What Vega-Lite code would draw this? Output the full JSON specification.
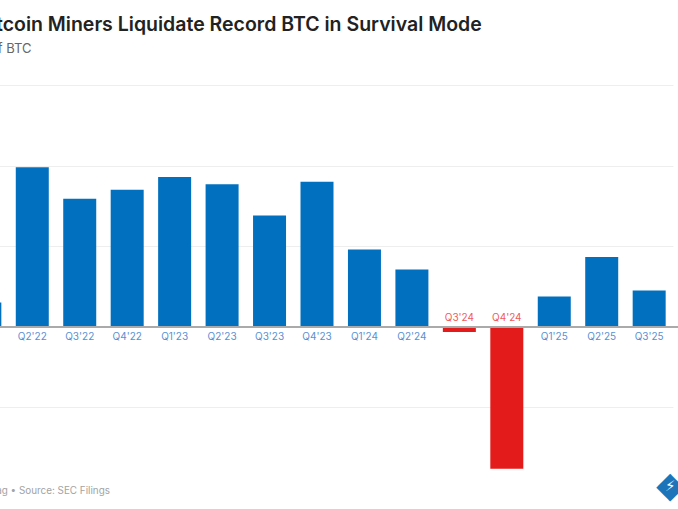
{
  "$schema": "https://vega.github.io/schema/vega-lite/v6.json",
  "width": 678,
  "height": 403,
  "autosize": {"type": "none"},
  "padding": {"left": 0, "top": 85, "right": 0, "bottom": 21},
  "background": "white",
  "config": {"view": {"stroke": null}},
  "title": {
    "text": "Bitcoin Miners Liquidate Record BTC in Survival Mode",
    "subtitle": "# of BTC",
    "anchor": "start",
    "frame": "group",
    "dx": -22,
    "offset": 28,
    "font": "Inter",
    "fontSize": 19.5,
    "fontWeight": 600,
    "color": "#222222",
    "subtitleFont": "Inter",
    "subtitleFontSize": 13,
    "subtitleColor": "#666666",
    "subtitlePadding": 8
  },
  "data": {"values": [
    {"quarter": "Q1'22", "value": 3000},
    {"quarter": "Q2'22", "value": 19800},
    {"quarter": "Q3'22", "value": 15900},
    {"quarter": "Q4'22", "value": 17000},
    {"quarter": "Q1'23", "value": 18600},
    {"quarter": "Q2'23", "value": 17700},
    {"quarter": "Q3'23", "value": 13800},
    {"quarter": "Q4'23", "value": 18000},
    {"quarter": "Q1'24", "value": 9600},
    {"quarter": "Q2'24", "value": 7100},
    {"quarter": "Q3'24", "value": -650},
    {"quarter": "Q4'24", "value": -17600},
    {"quarter": "Q1'25", "value": 3750},
    {"quarter": "Q2'25", "value": 8650},
    {"quarter": "Q3'25", "value": 4500}
  ]},
  "encoding": {
    "x": {
      "field": "quarter",
      "type": "nominal",
      "sort": null,
      "scale": {"range": [-38.9, 672.9], "paddingInner": 0.305, "paddingOuter": 0.1525},
      "axis": {
        "domain": false,
        "ticks": false,
        "labels": false,
        "title": "TheMinerMag • Source: SEC Filings",
        "titleFont": "Inter",
        "titleFontSize": 9.9,
        "titleFontWeight": 400,
        "titleColor": "#a3a3a3",
        "titleAlign": "left",
        "titleAnchor": "start",
        "titleBaseline": "middle",
        "titleX": -58,
        "titleY": 2
      }
    },
    "y": {
      "field": "value",
      "type": "quantitative",
      "scale": {"domain": [-20000, 30000], "nice": false},
      "axis": {
        "title": null,
        "domain": false,
        "ticks": false,
        "labels": false,
        "values": [-10000, 0, 10000, 20000, 30000],
        "grid": true,
        "gridColor": "#eeeeee",
        "gridWidth": 1
      }
    }
  },
  "layer": [
    {
      "mark": {"type": "bar", "width": 33},
      "encoding": {
        "color": {"condition": {"test": "datum.value < 0", "value": "#e31b1b"}, "value": "#0070bf"}
      }
    },
    {
      "mark": {"type": "rule", "color": "#aaaaaa", "strokeWidth": 1.5},
      "encoding": {"x": {"value": 0}, "x2": {"value": 678}, "y": {"datum": 0}}
    },
    {
      "transform": [{"filter": "datum.value >= 0"}],
      "mark": {"type": "text", "font": "Inter", "fontSize": 10, "color": "#5a8fd2", "baseline": "middle", "dy": 10},
      "encoding": {"y": {"datum": 0}, "text": {"field": "quarter"}}
    },
    {
      "transform": [{"filter": "datum.value < 0"}],
      "mark": {"type": "text", "font": "Inter", "fontSize": 10, "color": "#ef5a5a", "baseline": "middle", "dy": -9},
      "encoding": {"y": {"datum": 0}, "text": {"field": "quarter"}}
    },
    {
      "transform": [{"filter": "datum.quarter === \"Q3'25\""}],
      "mark": {"type": "text", "text": "◆", "font": "DejaVu Sans", "fontSize": 36, "color": "#1e74b8", "baseline": "middle", "dx": 21, "dy": -2},
      "encoding": {"y": {"datum": -20000}}
    },
    {
      "transform": [{"filter": "datum.quarter === \"Q3'25\""}],
      "mark": {"type": "text", "text": "⚡", "font": "DejaVu Sans", "fontSize": 15, "color": "white", "baseline": "middle", "dx": 21, "dy": -2},
      "encoding": {"y": {"datum": -20000}}
    }
  ]
}
